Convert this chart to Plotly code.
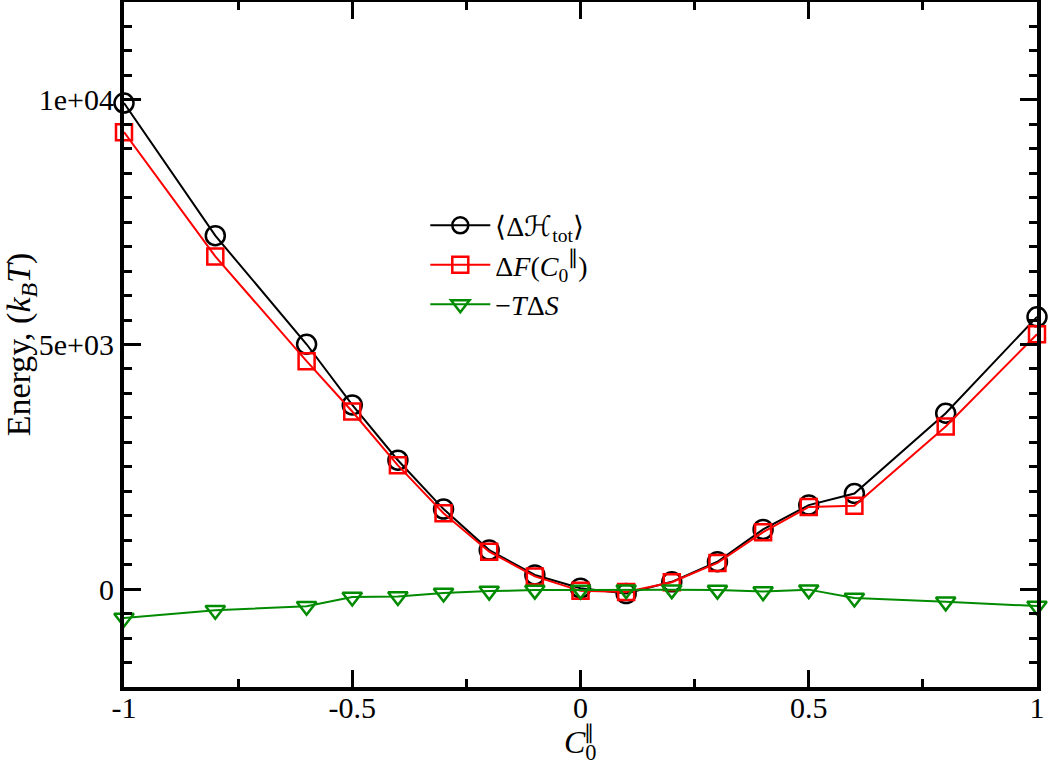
import plotly.graph_objects as go

c0 = [-1.0, -0.8, -0.6, -0.5, -0.4, -0.3, -0.2, -0.1, 0.0, 0.1, 0.2, 0.3, 0.4, 0.5, 0.6, 0.8, 1.0]
h_tot = [9935, 7225, 5005, 3765, 2635, 1636, 798, 290, 20, -90, 150, 560, 1220, 1718, 1955, 3595, 5565]
delta_f = [9340, 6800, 4660, 3630, 2530, 1550, 765, 260, -35, -60, 140, 535, 1165, 1680, 1705, 3325, 5210]
minus_tds = [-590, -430, -350, -160, -150, -80, -40, -20, -20, -10, -10, -20, -50, -10, -180, -260, -345]

x_tickvals = [-1, -0.5, 0, 0.5, 1]
x_ticktext = ["-1", "-0.5", "0", "0.5", "1"]
y_tickvals = [0, 5000, 10000]
y_ticktext = ["0", "5e+03", "1e+04"]

FONT = "Liberation Serif"

fig = go.Figure()
fig.add_trace(go.Scatter(
    x=c0, y=h_tot, mode="lines+markers", name="⟨Δℋ<sub>tot</sub>⟩",
    line=dict(color="black", width=2),
    marker=dict(symbol="circle-open", size=19, color="black", line=dict(width=2.5)),
    cliponaxis=False))
fig.add_trace(go.Scatter(
    x=c0, y=delta_f, mode="lines+markers", name="Δ<i>F</i>(<i>C</i><sub>0</sub><sup>∥</sup>)",
    line=dict(color="#ff0000", width=2),
    marker=dict(symbol="square-open", size=16, color="#ff0000", line=dict(width=2.5)),
    cliponaxis=False))
fig.add_trace(go.Scatter(
    x=c0, y=minus_tds, mode="lines+markers", name="−<i>T</i>Δ<i>S</i>",
    line=dict(color="#008b00", width=2),
    marker=dict(symbol="triangle-down-open", size=17, color="#008b00", line=dict(width=2.5)),
    cliponaxis=False))

axis_common = dict(
    showline=True, linewidth=4, linecolor="black", mirror="ticks",
    ticks="inside", tickwidth=3, tickcolor="black", ticklen=17,
    showgrid=False, zeroline=False,
    tickfont=dict(family=FONT, size=30, color="black"),
)

fig.update_xaxes(
    range=[-1, 1], tickvals=x_tickvals, ticktext=x_ticktext,
    ticklabelstandoff=-9,
    minor=dict(dtick=0.25, ticks="inside", ticklen=8, tickwidth=3, tickcolor="black", showgrid=False),
    **axis_common)
fig.update_yaxes(
    range=[-2000, 12000], tickvals=y_tickvals, ticktext=y_ticktext,
    minor=dict(dtick=500, tick0=0, ticks="inside", ticklen=8, tickwidth=3, tickcolor="black", showgrid=False),
    title=dict(text="Energy, (<i>k</i><sub><i>B</i></sub><i>T</i>)", font=dict(family=FONT, size=34, color="black"), standoff=8),
    **axis_common)

# x-axis title C_0 with the parallel sign stacked above the subscript
fig.add_annotation(text="<i>C</i><sub>0</sub>", xref="paper", yref="paper", x=0.5, y=-0.052,
                   xanchor="center", yanchor="top", showarrow=False, borderpad=0,
                   font=dict(family=FONT, size=32, color="black"))
fig.add_annotation(text="∥", xref="paper", yref="paper", x=0.509, y=-0.066,
                   xanchor="center", yanchor="middle", showarrow=False, borderpad=0,
                   font=dict(family=FONT, size=20, color="black"))

fig.update_layout(
    width=1050, height=760,
    margin=dict(l=124, r=13, t=2, b=73, autoexpand=False),
    plot_bgcolor="white", paper_bgcolor="white",
    font=dict(family=FONT, color="black"),
    showlegend=True,
    legend=dict(x=0.33, y=0.71, xanchor="left", yanchor="top",
                bgcolor="rgba(0,0,0,0)", borderwidth=0,
                font=dict(family=FONT, size=28, color="black"),
                itemwidth=60),
)

fig.write_html("out.html", config={"displayModeBar": False},
               post_script="document.body.style.margin='0px';")
